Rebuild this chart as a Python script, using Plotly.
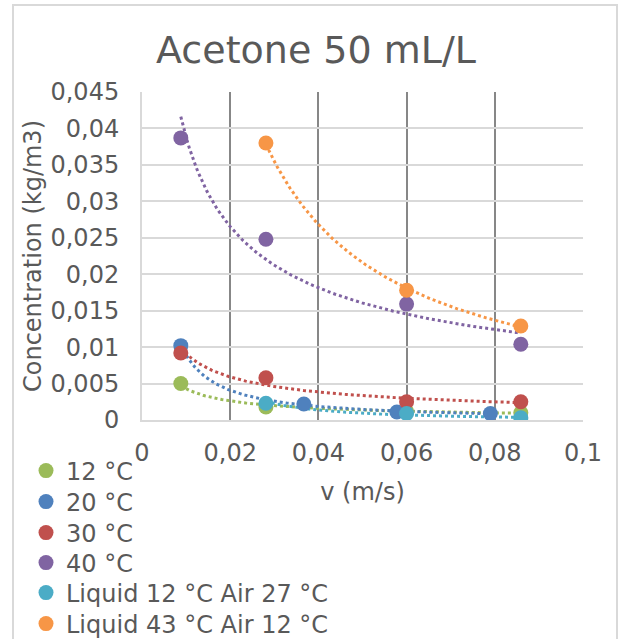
import numpy as np
import plotly.graph_objects as go

series_names = ["12 °C", "20 °C", "30 °C", "40 °C", "Liquid 12 °C Air 27 °C", "Liquid 43 °C Air 12 °C"]
colors = ["#9BBB59", "#4F81BD", "#C0504D", "#8064A2", "#4BACC6", "#F79646"]

x_12 = [0.0088, 0.0281, 0.0600, 0.0859]
y_12 = [0.0050, 0.0018, 0.0012, 0.0010]
x_20 = [0.0088, 0.0367, 0.0578, 0.0790]
y_20 = [0.0102, 0.0022, 0.0011, 0.0009]
x_30 = [0.0088, 0.0281, 0.0600, 0.0859]
y_30 = [0.0092, 0.0058, 0.0025, 0.0025]
x_40 = [0.0088, 0.0281, 0.0600, 0.0859]
y_40 = [0.0387, 0.0248, 0.0159, 0.0104]
x_l12 = [0.0281, 0.0600, 0.0859]
y_l12 = [0.0023, 0.0009, 0.0003]
x_l43 = [0.0281, 0.0600, 0.0859]
y_l43 = [0.0380, 0.0178, 0.0129]

xs = [x_12, x_20, x_30, x_40, x_l12, x_l43]
ys = [y_12, y_20, y_30, y_40, y_l12, y_l43]

font_family = "DejaVu Sans"
txt = "#595959"
fs = 24

fig = go.Figure()

# power trendlines (Excel style), fitted from the data
for x, y, c in zip(xs, ys, colors):
    b, ln_a = np.polyfit(np.log(x), np.log(y), 1)
    xf = np.linspace(min(x), max(x), 200)
    yf = np.exp(ln_a) * xf ** b
    fig.add_trace(go.Scatter(x=xf, y=yf, mode="lines", showlegend=False, hoverinfo="skip",
                             line=dict(color=c, width=3, dash="dot")))

legend_ids = ["legend"] + [f"legend{i}" for i in range(2, len(series_names) + 1)]
for name, x, y, c, lid in zip(series_names, xs, ys, colors, legend_ids):
    fig.add_trace(go.Scatter(x=x, y=y, mode="markers", name=name, legend=lid,
                             marker=dict(color=c, size=15, line=dict(width=0))))

L, R, T, B = 142, 583, 92, 420
W, H = 620, 639

def px_x(p):
    return (p - L) / (R - L)

def px_y(p):
    return (B - p) / (B - T)

legend_row_px = [471, 502, 533, 563, 593, 624]
legend_layout = {}
for lid, py in zip(legend_ids, legend_row_px):
    legend_layout[lid] = dict(x=px_x(26), xanchor="left", y=px_y(py), yanchor="middle",
                              bgcolor="rgba(0,0,0,0)", font=dict(size=fs, color=txt),
                              itemwidth=30, borderwidth=0)

fig.update_layout(
    width=W, height=H,
    margin=dict(l=L, r=W - R, t=T, b=H - B, autoexpand=False),
    paper_bgcolor="white", plot_bgcolor="white",
    separators=", ",
    font=dict(family=font_family, color=txt, size=fs),
    title=dict(text="Acetone 50 mL/L", x=316 / W, xanchor="center",
               y=1 - 50 / H, yanchor="middle",
               font=dict(size=38, color=txt, family=font_family)),
    xaxis=dict(range=[0, 0.1], dtick=0.02, tick0=0, showgrid=True, gridcolor="#878787", gridwidth=2,
               zeroline=False, showline=True, linecolor="#D9D9D9", linewidth=2,
               ticks="", ticklabelstandoff=10, tickfont=dict(size=fs, color=txt), automargin=False,
               title=dict(text="v (m/s)", font=dict(size=fs, color=txt), standoff=17)),
    yaxis=dict(range=[0, 0.045], dtick=0.005, tick0=0, showgrid=True, gridcolor="#D9D9D9", gridwidth=2,
               zeroline=False, showline=True, linecolor="#D9D9D9", linewidth=2,
               ticks="", ticklabelstandoff=16, tickfont=dict(size=fs, color=txt), automargin=False,
               title=dict(text="Concentration (kg/m3)", font=dict(size=fs, color=txt), standoff=2)),
    shapes=[dict(type="rect", xref="paper", yref="paper",
                 x0=px_x(13), x1=px_x(617), y0=px_y(650), y1=px_y(5),
                 line=dict(color="#D9D9D9", width=2), fillcolor="rgba(0,0,0,0)", layer="below")],
    **legend_layout,
)

fig.write_html("out.html")
